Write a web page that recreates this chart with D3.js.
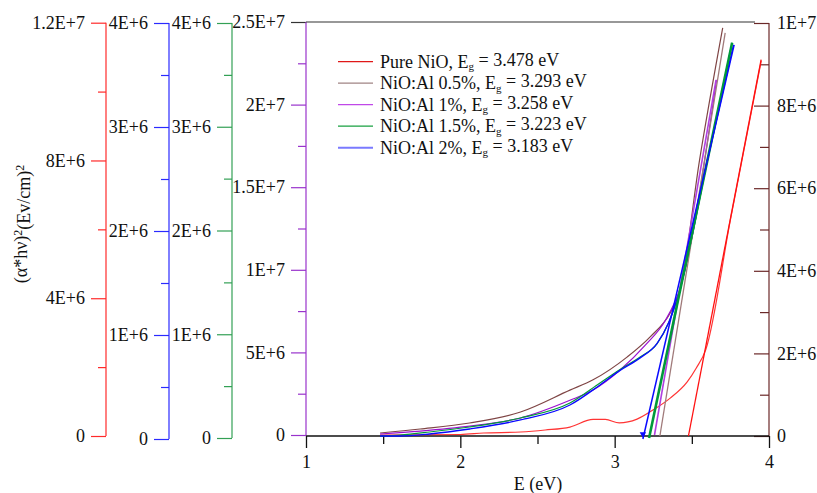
<!DOCTYPE html>
<html><head><meta charset="utf-8">
<script src="https://cdn.jsdelivr.net/npm/d3@7"></script>
<style>
html,body{margin:0;padding:0;background:#fff;}
svg{display:block;}
svg text{font-family:"Liberation Serif","Times New Roman","DejaVu Serif","Noto Serif",serif;}
</style></head>
<body><svg id="c" width="817" height="493"></svg>
<script>
// ---------- data ----------
const seriesNames = ["Pure NiO", "NiO:Al 0.5%", "NiO:Al 1%", "NiO:Al 1.5%", "NiO:Al 2%"];
const bandGaps = [3.478, 3.293, 3.258, 3.223, 3.183];

// Pure NiO (left red axis)
const pureE = [1.48, 2.0, 2.15, 2.39, 2.55, 2.71, 2.86, 2.94, 3.03, 3.145, 3.25, 3.36, 3.47, 3.53, 3.59, 3.75, 3.95];
const pureV = [2.9e4, 4.4e4, 8.7e4, 1.16e5, 1.74e5, 2.6e5, 4.8e5, 4.8e5, 3.8e5, 4.9e5, 7.6e5, 1.10e6, 1.57e6, 1.98e6, 2.5e6, 6.28e6, 1.09e7];
// NiO:Al 0.5% (right brown axis)
const al05E = [1.48, 1.74, 2.06, 2.39, 2.71, 2.86, 3.08, 3.23, 3.36, 3.42, 3.55, 3.70];
const al05V = [7.3e4, 1.7e5, 3.15e5, 5.8e5, 1.11e6, 1.36e6, 1.91e6, 2.40e6, 2.98e6, 3.46e6, 6.68e6, 9.88e6];
// NiO:Al 1% (purple axis)
const al1E = [1.48, 1.74, 2.06, 2.39, 2.71, 2.86, 3.035, 3.20, 3.33, 3.42, 3.66];
const al1V = [6e4, 2.4e5, 5.4e5, 1.03e6, 2.1e6, 2.72e6, 3.93e6, 5.45e6, 6.96e6, 8.78e6, 2.15e7];
// NiO:Al 1.5% (green axis)
const al15E = [1.48, 1.61, 1.80, 2.06, 2.39, 2.71, 2.905, 3.035, 3.165, 3.275, 3.35, 3.41, 3.605, 3.761];
const al15V = [1.9e4, 2.9e4, 5.8e4, 1.06e5, 1.93e5, 3.37e5, 5.3e5, 6.6e5, 7.8e5, 9.1e5, 1.11e6, 1.36e6, 2.70e6, 3.81e6];
// NiO:Al 2% (blue axis)
const al2E = [1.48, 1.61, 1.80, 2.06, 2.39, 2.71, 2.905, 3.035, 3.165, 3.275, 3.35, 3.41, 3.605, 3.77];
const al2V = [2.9e4, 2.9e4, 4.8e4, 9.6e4, 1.83e5, 3.27e5, 5.2e5, 6.6e5, 7.8e5, 9.2e5, 1.12e6, 1.37e6, 2.71e6, 3.79e6];

// linear-fit end points (start at band gap, value 0)
const fitTopE = [3.949, 3.716, 3.657, 3.761, 3.774];
const fitTopV = [1.0925e7, 9.76e6, 2.15e7, 3.81e6, 3.79e6];

// axes
const xTicks = [1, 2, 3, 4];
const xMinor = [1.5, 2.5, 3.5];
const redTicks = [0, 4e6, 8e6, 1.2e7], redLabels = ["0", "4E+6", "8E+6", "1.2E+7"], redMinor = [2e6, 6e6, 1e7];
const blueTicks = [0, 1e6, 2e6, 3e6, 4e6], blueLabels = ["0", "1E+6", "2E+6", "3E+6", "4E+6"], blueMinor = [5e5, 1.5e6, 2.5e6, 3.5e6];
const greenTicks = blueTicks, greenLabels = blueLabels, greenMinor = blueMinor;
const purpleTicks = [0, 5e6, 1e7, 1.5e7, 2e7, 2.5e7], purpleLabels = ["0", "5E+6", "1E+7", "1.5E+7", "2E+7", "2.5E+7"], purpleMinor = [2.5e6, 7.5e6, 1.25e7, 1.75e7, 2.25e7];
const rightTicks = [0, 2e6, 4e6, 6e6, 8e6, 1e7], rightLabels = ["0", "2E+6", "4E+6", "6E+6", "8E+6", "1E+7"], rightMinor = [1e6, 3e6, 5e6, 7e6, 9e6];

// ---------- drawing ----------
const svg = d3.select("#c");
const FS = 18;
const x = d3.scaleLinear().domain([1, 4]).range([306, 769]);
const yRed = d3.scaleLinear().domain([0, 1.2e7]).range([436, 22.7]);
const yBlue = d3.scaleLinear().domain([0, 4e6]).range([439, 23]);
const yGreen = d3.scaleLinear().domain([0, 4e6]).range([438, 23]);
const yPurple = d3.scaleLinear().domain([0, 2.5e7]).range([435, 22]);
const yRight = d3.scaleLinear().domain([0, 1e7]).range([436, 23]);

const C = {
  redAxis: "#ff2a2a", blueAxis: "#2a2aff", greenAxis: "#33a055", purpleAxis: "#9933cc", rightAxis: "#6b2828",
  red: "#ff1010", brown: "#7f4545", brownFit: "#a07a7a", purple: "#9a10d0", green: "#00993a", blue: "#0a0aff"
};

function styleText(sel) {
  sel.attr("fill", "#111").style("font-size", FS + "px")
    .style("font-family", '"Liberation Serif","Times New Roman","DejaVu Serif","Noto Serif",serif');
}

function leftAxis(xPos, scale, ticks, labels, minor, color, topTickColor) {
  const g = svg.append("g");
  const ax = d3.axisLeft(scale).tickValues(ticks).tickFormat((d, i) => labels[i]).tickSize(15).tickPadding(6);
  g.attr("transform", `translate(${xPos},0)`).call(ax);
  g.attr("font-family", null);
  g.select(".domain").remove();
  g.selectAll(".tick line").attr("stroke", (d, i) => (topTickColor && i === ticks.length - 1) ? topTickColor : color).attr("stroke-width", 1.2);
  styleText(g.selectAll(".tick text"));
  const gm = svg.append("g").attr("transform", `translate(${xPos},0)`);
  gm.call(d3.axisLeft(scale).tickValues(minor).tickFormat("").tickSize(8));
  gm.select(".domain").remove();
  gm.selectAll(".tick line").attr("stroke", color).attr("stroke-width", 1.2);
  svg.append("line").attr("x1", xPos).attr("x2", xPos)
    .attr("y1", scale(scale.domain()[0])).attr("y2", scale(scale.domain()[1]))
    .attr("stroke", color).attr("stroke-width", 1.2);
}

leftAxis(106, yRed, redTicks, redLabels, redMinor, C.redAxis);
leftAxis(169, yBlue, blueTicks, blueLabels, blueMinor, C.blueAxis);
leftAxis(232, yGreen, greenTicks, greenLabels, greenMinor, C.greenAxis);
leftAxis(306, yPurple, purpleTicks, purpleLabels, purpleMinor, C.purpleAxis, "#333");

// right axis (ticks pointing inward, labels outside)
{
  const xPos = 769;
  const g = svg.append("g").attr("transform", `translate(${xPos},0)`);
  g.call(d3.axisRight(yRight).tickValues(rightTicks).tickFormat((d, i) => rightLabels[i]).tickSize(-15).tickPadding(8));
  g.attr("font-family", null);
  g.select(".domain").remove();
  g.selectAll(".tick line").attr("stroke", C.rightAxis).attr("stroke-width", 1.2);
  g.selectAll(".tick text").attr("x", 8);
  styleText(g.selectAll(".tick text"));
  const gm = svg.append("g").attr("transform", `translate(${xPos},0)`);
  gm.call(d3.axisRight(yRight).tickValues(rightMinor).tickFormat("").tickSize(-9));
  gm.select(".domain").remove();
  gm.selectAll(".tick line").attr("stroke", C.rightAxis).attr("stroke-width", 1.2);
  svg.append("line").attr("x1", xPos).attr("x2", xPos).attr("y1", yRight(0)).attr("y2", yRight(1e7))
    .attr("stroke", C.rightAxis).attr("stroke-width", 1.2);
}

// top frame line
svg.append("line").attr("x1", x(1)).attr("x2", 755).attr("y1", yPurple(2.5e7)).attr("y2", yPurple(2.5e7))
  .attr("stroke", "#333").attr("stroke-width", 1.2);

// x axis
{
  const g = svg.append("g").attr("transform", `translate(0,${yPurple(0) + 1})`);
  g.call(d3.axisBottom(x).tickValues(xTicks).tickFormat(d3.format("d")).tickSize(12).tickPadding(7));
  g.attr("font-family", null);
  g.select(".domain").attr("stroke", "#111").attr("stroke-width", 1.3).attr("d", `M${x(1)},0H${x(4)}`);
  g.selectAll(".tick line").attr("stroke", "#111").attr("stroke-width", 1.3);
  styleText(g.selectAll(".tick text"));
  const gm = svg.append("g").attr("transform", `translate(0,${yPurple(0) + 1})`);
  gm.call(d3.axisBottom(x).tickValues(xMinor).tickFormat("").tickSize(8));
  gm.select(".domain").remove();
  gm.selectAll(".tick line").attr("stroke", "#111").attr("stroke-width", 1.3);
}

styleText(svg.append("text").attr("x", 538).attr("y", 490).attr("text-anchor", "middle").text("E (eV)"));

// y title
{
  const t = svg.append("text").attr("transform", "translate(27,224) rotate(-90)").attr("text-anchor", "middle");
  styleText(t);
  t.append("tspan").text("(α*hν)");
  t.append("tspan").attr("dy", "-0.45em").style("font-size", "12px").text("2");
  t.append("tspan").attr("dy", "0.45em").text("(Ev/cm)");
  t.append("tspan").attr("dy", "-0.45em").style("font-size", "12px").text("2");
}

// curves
const line = (ys) => d3.line().x(d => x(d[0])).y(d => ys(d[1])).curve(d3.curveMonotoneX);
const zipPts = (a, b) => a.map((e, i) => [e, b[i]]);
const series = [
  {E: pureE, V: pureV, y: yRed, color: C.red, fit: C.red, w: 1.2, fw: 1.3},
  {E: al05E, V: al05V, y: yRight, color: C.brown, fit: C.brownFit, w: 1.2, fw: 1.3},
  {E: al1E, V: al1V, y: yPurple, color: C.purple, fit: "#b040e0", w: 1.2, fw: 1.6},
  {E: al15E, V: al15V, y: yGreen, color: C.green, fit: C.green, w: 1.2, fw: 2.6},
  {E: al2E, V: al2V, y: yBlue, color: C.blue, fit: C.blue, w: 1.3, fw: 1.5}
];
const pg = svg.append("g");
series.forEach((s, i) => {
  pg.append("path").datum(zipPts(s.E, s.V)).attr("d", line(s.y))
    .attr("fill", "none").attr("stroke", s.color).attr("stroke-width", s.w).attr("opacity", i === 0 ? 0.85 : 1);
});
series.forEach((s, i) => {
  pg.append("path").datum([[bandGaps[i], 0], [fitTopE[i], fitTopV[i]]])
    .attr("d", d3.line().x(d => x(d[0])).y(d => s.y(d[1])))
    .attr("fill", "none").attr("stroke", s.fit).attr("stroke-width", s.fw);
});
pg.append("path").attr("d", d3.symbol(d3.symbolTriangle, 18)())
  .attr("transform", `translate(${x(bandGaps[4])},${yBlue(0) - 5}) rotate(180)`)
  .attr("fill", C.blue);

// legend
const legendColors = ["#e01818", "#a08484", "#c048e8", "#18a040", "#7a7aff"];
const legendVals = ["3.478", "3.293", "3.258", "3.223", "3.183"];
const lg = svg.append("g");
seriesNames.forEach((n, i) => {
  const cy = 61.7 + i * 21.5;
  lg.append("line").attr("x1", 338).attr("x2", 373).attr("y1", cy).attr("y2", cy)
    .attr("stroke", legendColors[i]).attr("stroke-width", i === 4 ? 2 : 1.3);
  const t = lg.append("text").attr("x", 380).attr("y", cy + 6);
  styleText(t);
  t.append("tspan").text(n + ", E");
  t.append("tspan").attr("dy", "0.25em").style("font-size", "11px").text("g");
  t.append("tspan").attr("dy", "-0.25em").text(" = " + legendVals[i] + " eV");
});
</script></body></html>
